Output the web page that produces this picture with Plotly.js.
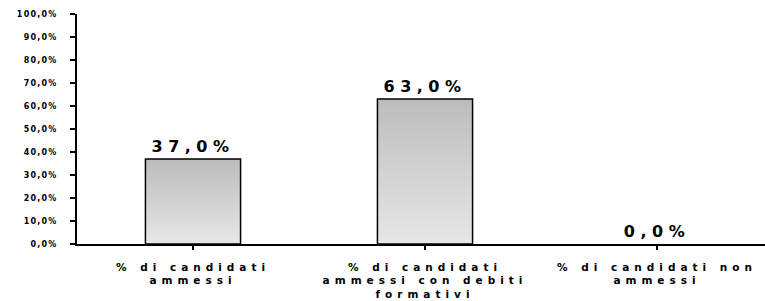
<!DOCTYPE html>
<html>
<head>
<meta charset="utf-8">
<script src="https://cdn.plot.ly/plotly-3.0.1.min.js"></script>
<style>
html,body{margin:0;padding:0;background:#fff;}
#chart .xtick text{letter-spacing:5px;}
#chart .ytick text{letter-spacing:1.2px;}
#chart text.bartext{letter-spacing:5.5px;}
#chart .bars .point path{fill:url(#barGrad) !important;}
</style>
</head>
<body>
<svg width="0" height="0" style="position:absolute">
  <defs>
    <linearGradient id="barGrad" x1="0" y1="0" x2="0" y2="1">
      <stop offset="0" stop-color="#bcbcbc"/>
      <stop offset="1" stop-color="#e7e7e7"/>
    </linearGradient>
  </defs>
</svg>
<div id="chart" style="width:765px;height:301px;"></div>
<script>
var categories = ["% di candidati<br>ammessi", "% di candidati<br>ammessi con debiti<br>formativi", "% di candidati non<br>ammessi"];
var values = [37.0, 63.0, 0.0];
var yTicks = [0,10,20,30,40,50,60,70,80,90,100];
var yTickText = yTicks.map(function(v){ return v.toFixed(1).replace('.', ',') + '%'; });

var trace = {
  type: 'bar',
  x: [0,1,2],
  y: values,
  width: 0.41,
  marker: {color: '#d0d0d0', line: {color: '#000', width: values.map(function(v){ return v > 0 ? 1.5 : 0; })}},
  texttemplate: '%{y:.1f}%',
  textposition: 'outside',
  cliponaxis: false,
  textfont: {family: 'DejaVu Sans', size: 16, weight: 'bold', color: '#000'},
  hoverinfo: 'none'
};

var layout = {
  width: 765, height: 301,
  margin: {l: 77, r: 0, t: 14, b: 57},
  separators: ',.',
  paper_bgcolor: '#fff', plot_bgcolor: '#fff',
  showlegend: false,
  xaxis: {
    range: [-0.5, 2.4655],
    tickmode: 'array', tickvals: [0,1,2], ticktext: categories,
    tickson: 'boundaries', ticks: 'outside', ticklen: 4, tickwidth: 1.5, tickcolor: '#000',
    ticklabelstandoff: 8,
    showline: true, linecolor: '#000', linewidth: 2,
    showgrid: false, zeroline: false,
    tickfont: {family: 'DejaVu Sans', size: 10.5, weight: 'bold', color: '#000'},
    fixedrange: true
  },
  yaxis: {
    range: [0, 100],
    tickmode: 'array', tickvals: yTicks, ticktext: yTickText,
    ticks: 'outside', ticklen: 5, tickwidth: 1.5, tickcolor: '#000',
    ticklabelstandoff: 11,
    showline: true, linecolor: '#000', linewidth: 2,
    showgrid: false, zeroline: false,
    tickfont: {family: 'DejaVu Sans', size: 8, weight: 'bold', color: '#000'},
    fixedrange: true
  }
};

Plotly.newPlot('chart', [trace], layout, {displayModeBar: false, staticPlot: true});
</script>
</body>
</html>
